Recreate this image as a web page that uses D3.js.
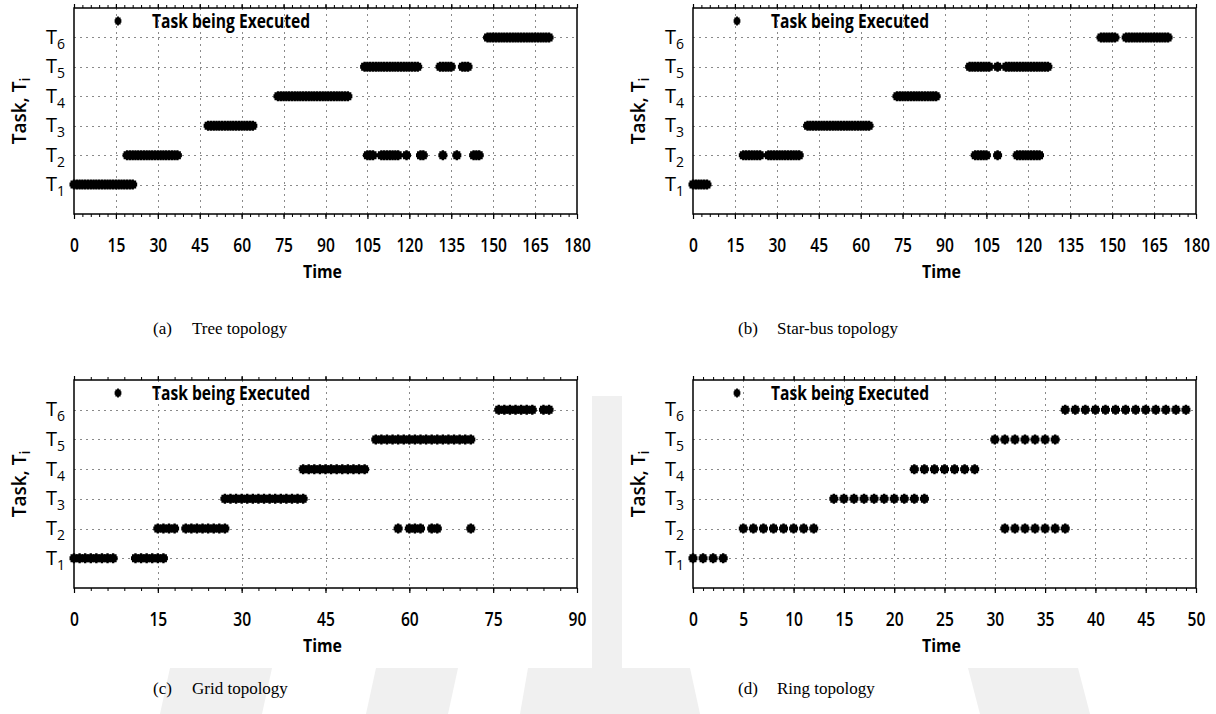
<!DOCTYPE html>
<html><head><meta charset="utf-8">
<script src="https://cdn.jsdelivr.net/npm/d3@7"></script>
<style>body{margin:0;background:#fff} svg{display:block}</style>
</head><body>
<svg id="c" width="1216" height="714"></svg>
<script>
// ---------- data ----------
const taskIds = [1, 2, 3, 4, 5, 6];
const legendLabel = "Task being Executed";
const xTitle = "Time";
const yTitle = "Task, T";
const yTitleSub = "i";
const captionTags = ["(a)", "(b)", "(c)", "(d)"];
const captionNames = ["Tree topology", "Star-bus topology", "Grid topology", "Ring topology"];
const xMaxes = [180, 180, 90, 50];
const xTickSteps = [15, 15, 15, 5];

// execution time instants per task (T1..T6)
const treeTimes = [
  [0,1,2,3,4,5,6,7,8,9,10,11,12,13,14,15,16,17,18,19,20,21],
  [19,20,21,22,23,24,25,26,27,28,29,30,31,32,33,34,35,36,37,105,106,107,110,111,112,113,114,115,116,119,124,125,132,137,143,144,145],
  [48,49,50,51,52,53,54,55,56,57,58,59,60,61,62,63,64],
  [73,74,75,76,77,78,79,80,81,82,83,84,85,86,87,88,89,90,91,92,93,94,95,96,97,98],
  [104,105,106,107,108,109,110,111,112,113,114,115,116,117,118,119,120,121,122,123,131,132,133,134,135,139,140,141],
  [148,149,150,151,152,153,154,155,156,157,158,159,160,161,162,163,164,165,166,167,168,169,170]
];
const starBusTimes = [
  [0,1,2,3,4,5],
  [18,19,20,21,22,23,24,27,28,29,30,31,32,33,34,35,36,37,38,101,102,103,104,105,109,116,117,118,119,120,121,122,123,124],
  [41,42,43,44,45,46,47,48,49,50,51,52,53,54,55,56,57,58,59,60,61,62,63],
  [73,74,75,76,77,78,79,80,81,82,83,84,85,86,87],
  [99,100,101,102,103,104,105,106,109,112,113,114,115,116,117,118,119,120,121,122,123,124,125,126,127],
  [146,147,148,149,150,151,155,156,157,158,159,160,161,162,163,164,165,166,167,168,169,170]
];
const gridTimes = [
  [0,1,2,3,4,5,6,7,11,12,13,14,15,16],
  [15,16,17,18,20,21,22,23,24,25,26,27,58,60,61,62,64,65,71],
  [27,28,29,30,31,32,33,34,35,36,37,38,39,40,41],
  [41,42,43,44,45,46,47,48,49,50,51,52],
  [54,55,56,57,58,59,60,61,62,63,64,65,66,67,68,69,70,71],
  [76,77,78,79,80,81,82,84,85]
];
const ringTimes = [
  [0,1,2,3],
  [5,6,7,8,9,10,11,12,31,32,33,34,35,36,37],
  [14,15,16,17,18,19,20,21,22,23],
  [22,23,24,25,26,27,28],
  [30,31,32,33,34,35,36],
  [37,38,39,40,41,42,43,44,45,46,47,48,49]
];
const panelTimes = [treeTimes, starBusTimes, gridTimes, ringTimes];

// ---------- layout ----------
const layouts = [
  {l: 74,  r: 577,  t: 8,   b: 214, capX: 153, capY: 334},
  {l: 693, r: 1196, t: 8,   b: 214, capX: 738, capY: 334},
  {l: 74,  r: 577,  t: 380, b: 588, capX: 153, capY: 694},
  {l: 693, r: 1196, t: 380, b: 588, capX: 738, capY: 694}
];
const SANS = "'Open Sans', 'DejaVu Sans', sans-serif";
const SERIF = "'Liberation Serif', 'DejaVu Serif', serif";
const markerPath = "M-3.5,-4h7v8h-7Z M-1.2,-5h2.4v10h-2.4Z M-4.5,-2h9v4h-9Z";

const svg = d3.select("#c");

// faint background watermark
const wm = svg.append("g").attr("fill", "#f0f0f0");
wm.append("rect").attr("x", 592).attr("y", 396).attr("width", 30).attr("height", 318);
wm.append("path").attr("d", "M170,668 L272,668 L262,714 L160,714 Z");
wm.append("path").attr("d", "M376,668 L458,668 L448,714 L366,714 Z");
wm.append("path").attr("d", "M528,668 L592,668 L592,714 L520,714 Z");
wm.append("path").attr("d", "M622,668 L690,668 L700,714 L622,714 Z");
wm.append("path").attr("d", "M968,668 L1078,668 L1090,714 L980,714 Z");

panelTimes.forEach((times, i) => {
  const L = layouts[i];
  const x = d3.scaleLinear().domain([0, xMaxes[i]]).range([L.l, L.r]);
  const y = d3.scaleLinear().domain([0, 7]).range([L.b, L.t]);
  const step = xTickSteps[i];
  const major = d3.range(0, xMaxes[i] + step / 2, step);
  const minor = d3.range(0, xMaxes[i] + step / 10, step / 5);
  const g = svg.append("g");

  // grid
  const grid = g.append("g").attr("stroke", "#8a8a8a").attr("stroke-width", 1)
    .attr("stroke-dasharray", "2,4");
  grid.selectAll("line.v").data(major.filter(v => v > 0 && v < xMaxes[i])).join("line")
    .attr("class", "v")
    .attr("x1", d => Math.round(x(d)) + 0.5).attr("x2", d => Math.round(x(d)) + 0.5)
    .attr("y1", L.t).attr("y2", L.b);
  grid.selectAll("line.h").data(taskIds).join("line")
    .attr("class", "h")
    .attr("x1", L.l).attr("x2", L.r)
    .attr("y1", d => Math.round(y(d)) + 0.5).attr("y2", d => Math.round(y(d)) + 0.5);

  // markers
  const pts = [];
  times.forEach((arr, k) => arr.forEach(t => pts.push({task: taskIds[k], t})));
  g.append("g").selectAll("path").data(pts).join("path")
    .attr("d", markerPath)
    .attr("fill", "#000")
    .attr("transform", d => `translate(${x(d.t)},${y(d.task)})`);

  // frame
  g.append("rect").attr("x", L.l).attr("y", L.t)
    .attr("width", L.r - L.l).attr("height", L.b - L.t)
    .attr("fill", "none").attr("stroke", "#000").attr("stroke-width", 1.5);

  // axes (bottom with labels, top without)
  const bot = g.append("g").attr("transform", `translate(0,${L.b})`)
    .call(d3.axisBottom(x).tickValues(major).tickSize(5).tickFormat(d3.format("d")));
  bot.select(".domain").remove();
  bot.selectAll("line").attr("stroke", "#000").attr("stroke-width", 1.2);
  bot.selectAll("text")
    .attr("y", 38).attr("dy", 0)
    .attr("fill", "#000")
    .style("font-family", SANS).style("font-weight", 600).style("font-size", "20px")
    .attr("transform", "scale(0.78,1)");
  const botMinor = g.append("g").attr("transform", `translate(0,${L.b})`)
    .call(d3.axisBottom(x).tickValues(minor).tickSize(3).tickFormat(""));
  botMinor.select(".domain").remove();
  botMinor.selectAll("line").attr("stroke", "#000");
  const top = g.append("g").attr("transform", `translate(0,${L.t})`)
    .call(d3.axisTop(x).tickValues(major).tickSize(4).tickFormat(""));
  top.select(".domain").remove();
  top.selectAll("line").attr("stroke", "#000").attr("stroke-width", 1.2);
  const topMinor = g.append("g").attr("transform", `translate(0,${L.t})`)
    .call(d3.axisTop(x).tickValues(minor).tickSize(3).tickFormat(""));
  topMinor.select(".domain").remove();
  topMinor.selectAll("line").attr("stroke", "#000");

  // y tick labels T_k
  const yl = g.append("g").style("font-family", SANS).attr("fill", "#000");
  taskIds.forEach(k => {
    const tx = yl.append("text")
      .attr("x", L.l - 9).attr("y", y(k) + 6.5)
      .attr("text-anchor", "end")
      .style("font-size", "20px").style("font-weight", 500);
    tx.append("tspan").text("T");
    tx.append("tspan").attr("dy", 5).style("font-size", "14px").text(k);
  });

  // y title
  const yt = g.append("text")
    .attr("transform", `translate(${L.l - 48},${(L.t + L.b) / 2}) rotate(-90)`)
    .attr("text-anchor", "middle")
    .style("font-family", SANS).style("font-weight", 600).style("font-size", "19px")
    .attr("fill", "#000");
  yt.append("tspan").text(yTitle);
  yt.append("tspan").attr("dy", 4).style("font-size", "14px").text(yTitleSub);

  // x title
  g.append("text")
    .attr("x", (L.l + L.r) / 2 - 3).attr("y", L.b + 64)
    .attr("text-anchor", "middle")
    .attr("textLength", 39).attr("lengthAdjust", "spacingAndGlyphs")
    .style("font-family", SANS).style("font-weight", 700).style("font-size", "18px")
    .attr("fill", "#000").text(xTitle);

  // legend
  g.append("path").attr("d", markerPath).attr("fill", "#000")
    .attr("transform", `translate(${L.l + 44},${L.t + 13}) scale(0.75,0.9)`);
  g.append("text")
    .attr("x", L.l + 78).attr("y", L.t + 19.5)
    .attr("textLength", 158).attr("lengthAdjust", "spacingAndGlyphs")
    .style("font-family", SANS).style("font-weight", 700).style("font-size", "19px")
    .attr("fill", "#000").text(legendLabel);

  // caption
  g.append("text").attr("x", L.capX).attr("y", L.capY)
    .style("font-family", SERIF).style("font-size", "17px").attr("fill", "#000")
    .text(captionTags[i]);
  g.append("text").attr("x", L.capX + 39).attr("y", L.capY)
    .style("font-family", SERIF).style("font-size", "17px").attr("fill", "#000")
    .text(captionNames[i]);
});
</script>
</body></html>
